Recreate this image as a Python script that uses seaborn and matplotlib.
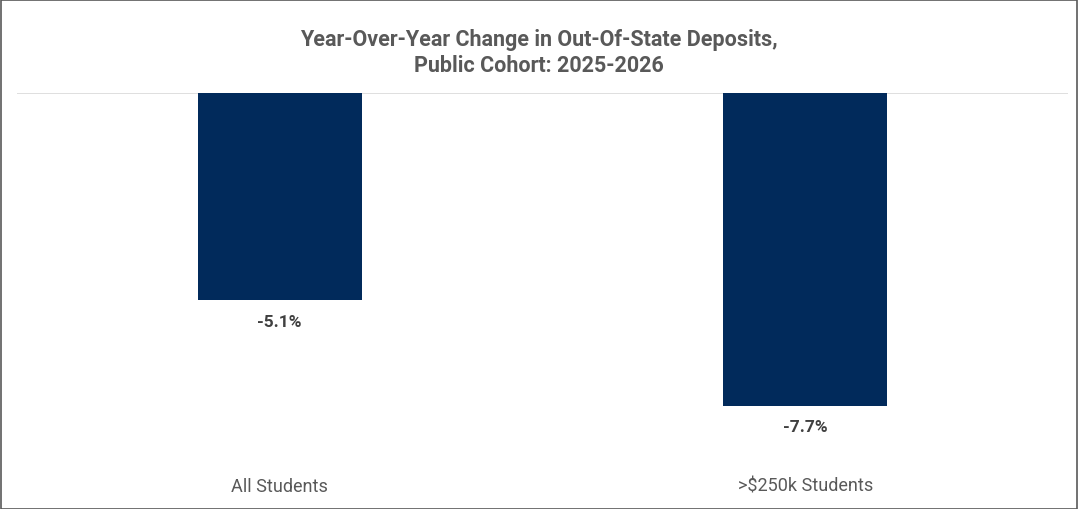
import matplotlib
matplotlib.use("Agg")
import matplotlib.pyplot as plt
import seaborn as sns
import pandas as pd
from matplotlib.patches import Rectangle

categories = ["All Students", ">$250k Students"]
values = [-5.1, -7.7]
value_labels = ["-5.1%", "-7.7%"]
title = "Year-Over-Year Change in Out-Of-State Deposits,\nPublic Cohort: 2025-2026"

sns.set_theme(style="white")
plt.rcParams['font.family'] = ['Roboto', 'DejaVu Sans']

df = pd.DataFrame({"category": categories, "value": values})

W, H = 1078, 510
fig = plt.figure(figsize=(W / 100, H / 100), dpi=100)
ax_left, ax_right = 17, 1068
ax_top, ax_bottom = 94, 468
ax = fig.add_axes([ax_left / W, 1 - ax_bottom / H, (ax_right - ax_left) / W, (ax_bottom - ax_top) / H])

sns.barplot(data=df, x="category", y="value", color="#012A5B", width=0.312,
            saturation=1, ax=ax, edgecolor="none")
px_per_unit = 40.65
ax.set_ylim(-(ax_bottom - ax_top) / px_per_unit, 0)
ax.set_xlim(-0.5, 1.5)
ax.axhline(0, color="#D9D9D9", lw=1.2, zorder=0)

for i, (v, lab) in enumerate(zip(values, value_labels)):
    ax.annotate(lab, (i, v), xytext=(0, -15), textcoords="offset points",
                ha="center", va="center", fontsize=12.5, fontweight="bold",
                color="#404040")

ax.set_xlabel("")
ax.set_ylabel("")
ax.set_yticks([])
ax.tick_params(axis="x", length=0, pad=7, labelsize=13, labelcolor="#595959")
for s in ax.spines.values():
    s.set_visible(False)

fig.text(0.5, 1 - 53 / H, title, ha="center", va="center", fontsize=15.5,
         fontweight="bold", color="#595959", linespacing=1.25)

fig.patches.append(Rectangle((0.5 / W, 0.5 / H), 1 - 1.5 / W, 1 - 1.5 / H,
                             transform=fig.transFigure, fill=False,
                             edgecolor="#595959", lw=1.2))

fig.savefig("out.png", dpi=100)
